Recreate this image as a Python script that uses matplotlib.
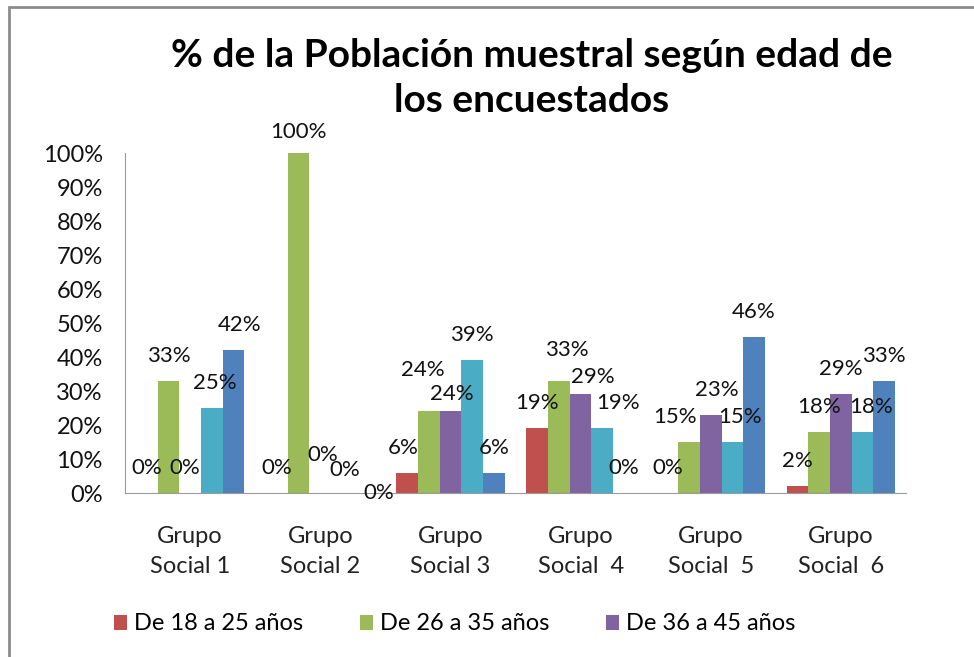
import numpy as np
import matplotlib.pyplot as plt
from matplotlib.patches import Rectangle

plt.rcParams['font.family'] = ['Lato', 'DejaVu Sans']

grupos = ['Grupo\nSocial 1', 'Grupo\nSocial 2', 'Grupo\nSocial 3',
          'Grupo\nSocial  4', 'Grupo\nSocial  5', 'Grupo\nSocial  6']
series = ['De 18 a 25 años', 'De 26 a 35 años', 'De 36 a 45 años',
          'De 46 a 55 años', 'Más de 55 años']
edad_18_25 = [0, 0, 6, 19, 0, 2]
edad_26_35 = [33, 100, 24, 33, 15, 18]
edad_36_45 = [0, 0, 24, 29, 23, 29]
edad_46_55 = [25, 0, 39, 19, 15, 18]
edad_mas_55 = [42, 0, 6, 0, 46, 33]
valores = [edad_18_25, edad_26_35, edad_36_45, edad_46_55, edad_mas_55]
colores = ['#C0504D', '#9BBB59', '#8064A2', '#4BACC6', '#4F81BD']

# desplazamientos de etiquetas (px) como los acomoda Excel: (serie, grupo) -> (dx, dy)
ajustes = {(2, 0): (-5, 0), (3, 0): (3, 0), (4, 0): (6, 0),
           (1, 1): (0, -4), (2, 1): (2, 13), (3, 1): (3, -2), (4, 1): (15, -25),
           (0, 2): (-4, 0), (1, 2): (-6, 16), (2, 2): (1, -8),
           (1, 3): (8, 6), (2, 3): (12, -8), (3, 3): (16, 0),
           (1, 4): (-14, 0), (2, 4): (6, 0), (3, 4): (8, 0),
           (3, 5): (8, 0)}

fig = plt.figure(figsize=(9.74, 6.57), dpi=100)
ax = fig.add_axes([125/974, 1-493/657, (906-125)/974, 340/657])

x = np.arange(len(grupos))
w = 1/6
barras = []
for i, (vals, c) in enumerate(zip(valores, colores)):
    pos = x + (i - 2) * w
    b = ax.bar(pos, vals, w, color=c, label=series[i])
    barras.append(b)
    for j, (p, v) in enumerate(zip(pos, vals)):
        dx, dy = ajustes.get((i, j), (0, 0))
        ax.annotate(f'{v}%', (p, v), xytext=(dx*0.72, (25+dy)*0.72),
                    textcoords='offset points',
                    ha='center', va='center', fontsize=16, color='#111111')

ax.set_xlim(-0.5, len(grupos) - 0.5)
ax.set_ylim(0, 100)
ax.set_yticks(np.arange(0, 101, 10))
ax.set_yticklabels([f'{t}%' for t in range(0, 101, 10)])
ax.set_xticks(x)
ax.set_xticklabels(grupos, linespacing=1.5)
ax.tick_params(axis='y', length=0, pad=16, labelsize=17, labelcolor='#111111')
ax.tick_params(axis='x', length=0, pad=24, labelsize=17, labelcolor='#222222')
for s in ['top', 'right']:
    ax.spines[s].set_visible(False)
ax.spines['left'].set_color('#9a9a9a')
ax.spines['bottom'].set_color('#9a9a9a')

fig.text(532/974, 1-78/657, '% de la Población muestral según edad de\nlos encuestados',
         ha='center', va='center', fontsize=28, fontweight='bold', linespacing=1.35)

fig.legend(barras[:3], series[:3], loc='center left',
           bbox_to_anchor=(114/974, 1-624/657), ncol=3, frameon=False,
           fontsize=17, handlelength=0.55, handleheight=0.6, handletextpad=0.3,
           columnspacing=2.4, borderpad=0, borderaxespad=0)

fig.patches.append(Rectangle((9/974, -0.1), 1.2, 1 - 7/657 + 0.1,
                             transform=fig.transFigure, fill=False,
                             edgecolor='#8c8c8c', linewidth=2))

fig.savefig('out.png', dpi=100)
